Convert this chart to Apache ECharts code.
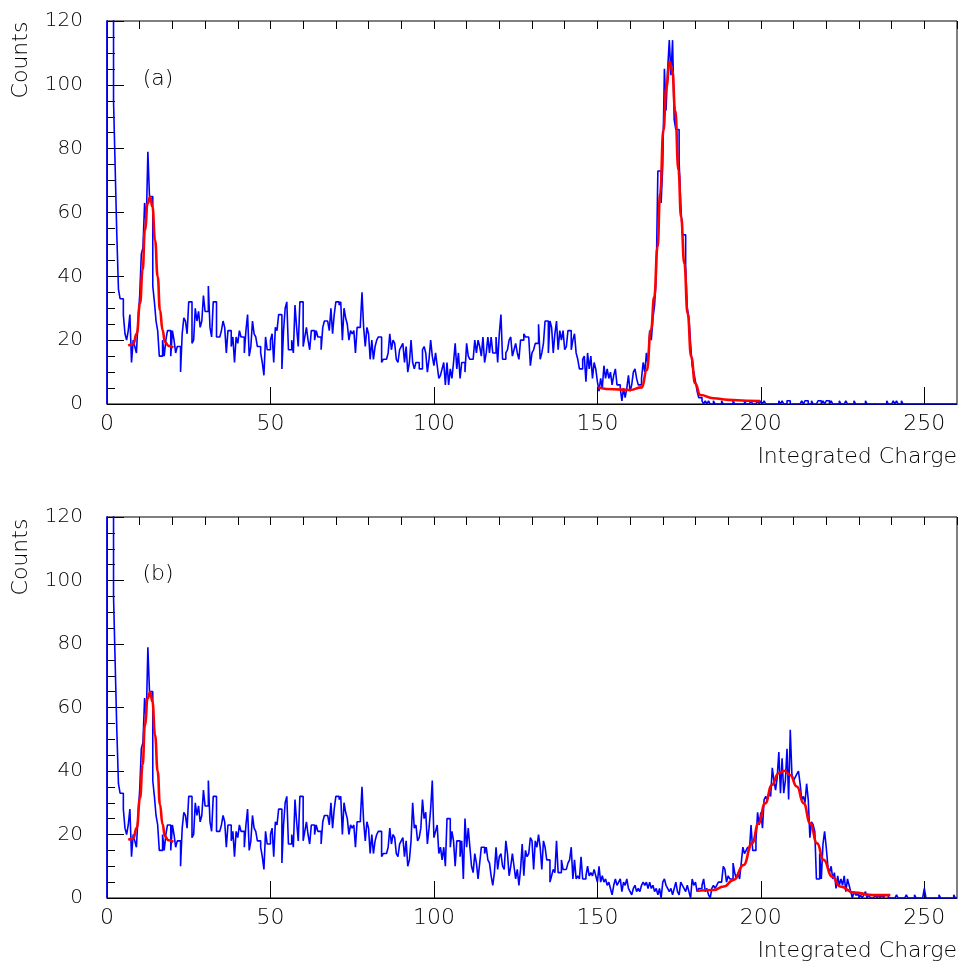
<!DOCTYPE html>
<html>
<head>
<meta charset="utf-8">
<script src="https://cdn.jsdelivr.net/npm/echarts@6/dist/echarts.min.js"></script>
<style>
html,body{margin:0;padding:0;background:#fff;}
#chart{width:961px;height:970px;}
</style>
</head>
<body>
<div id="chart"></div>
<script>
// ---------- data (bin width 0.5, bins start at 0) ----------
const binWidth = 0.5;
const xTicks = [0, 50, 100, 150, 200, 250];

// bins 0-56 (shared by both spectra)
const sharedLow = [150,150,150,150,95,74,53,36,33,33,28,22,20,23,28,13,20,18,16,
  26,34,47,49,63,56,79,65,65,37,
  32,26,23,15,15,20,15,20,23,23,15,23,20,16,18,18,10,22,27,26,22,32,32,19,20,30,26,29];
// bins 57-117
const sharedMid = [24,26,34,29,29,37,24,21,32,32,
  21,21,21,23,26,24,16,23,23,18,
  21,13,21,19,23,21,21,16,23,28,
  15,18,26,22,21,18,18,16,13,9,
  21,17,17,20,22,13,24,23,28,28,
  11,23,30,32,17,17,20,16,31,24,
  18];
// bins 118-184
const sharedHigh = [32,32,18,21,24,20,17,23,23,20,
  23,21,21,17,24,26,26,26,23,30,
  22,28,32,32,31,32,20,30,27,25,
  20,23,22,23,16,24,24,25,35,24,
  18,24,22,14,20,14,18,20,21,21,
  13,14,14,14,16,22,17,20,19,14,
  13,17,18,19,13,18,10];

// spectrum (a): bins 185-244
const aPlateau = [13,20,13,11,13,13,11,11,17,18,
  16,10,14,20,15,12,16,12,8,9,
  11,13,6,13,6,11,8,13,19,11,
  16,8,13,13,10,19,15,14,14,14,
  20,16,20,18,15,21,13,16,21,16,
  21,16,16,21,13,22,28,14,14,16];
// spectrum (a): bins 245-295
const aShoulder = [17,20,21,15,17,19,16,14,20,20,
  22,21,21,21,12,16,17,19,19,25,
  14,16,19,26,26,16,26,24,16,22,
  26,17,23,20,23,17,18,23,23,17,
  20,22,16,14,11,11,14,15,7,16,
  11];
// spectrum (a): bins 296-363
const aPeak = [15,8,13,11,7,4,8,5,12,8,
  11,8,10,6,9,11,6,6,5,1,
  5,2,5,9,4,6,10,11,8,6,
  6,8,13,10,16,12,23,20,27,31,
  40,73,73,63,75,105,92,105,114,103,
  114,89,86,86,76,63,53,53,43,30,
  27,19,12,10,7,4,2,2];
// spectrum (a): bins 364-519
const aTail = [1,0,1,0,1,0,0,1,0,0, 0,0,1,0,0,0,0,0,0,1, 0,0,0,0,0,0,1,0,0,0, 1,0,0,0,1,0,
  1,0,1,0,0,0,0,0,0,0,
  0,1,0,1,0,0,1,1,0,0,
  0,0,0,0,0,1,0,1,1,0,
  0,1,0,0,0,1,1,0,1,0,
  1,1,0,1,0,0,0,0,1,0,
  0,0,1,0,0,0,0,1,0,0,
  0,0,0,0,1,0,0,0,0,0,
  0,0,0,0,0,0,0,1,0,0,
  0,1,0,1,0,0,1,0,0,0,
  0,0,0,0,0,0,0,0,0,0,
  0,0,0,0,0,0,0,0,0,0, 0,0,0,0,0,0,0,0,0,0];

// spectrum (b): bins 185-289
const bPlateau = [12,18,30,22,23,18,19,22,31,25,
  27,17,22,28,37,19,21,23,14,16,
  12,16,10,25,25,16,21,18,10,18,
  18,13,18,6,25,16,22,16,10,8,
  14,11,6,11,16,16,14,16,12,11,
  7,4,8,16,9,13,14,10,9,18,
  14,7,10,14,10,6,9,4,9,17,
  7,15,13,14,19,18,9,18,16,20,
  16,9,18,16,12,12,5,7,9,8,
  18,8,8,12,9,9,9,11,12,16,
  6,12,6,7,6];
// spectrum (b): bins 290-375
const bValley = [13,6,6,7,10,7,8,7,9,7,
  5,10,5,7,5,6,4,5,3,1,
  4,6,4,5,6,2,5,4,6,3,
  2,1,3,4,2,3,2,4,5,4,
  5,3,5,3,4,2,3,1,3,0,
  5,6,4,3,2,3,1,3,5,2,
  1,5,4,3,2,4,2,0,6,4,
  5,2,3,3,4,6,2,3,1,0,
  3,4,3,4,5,5];
// spectrum (b): bins 376-519
const bPeak = [5,10,9,5,7,6,6,11,8,6,
  8,6,11,16,14,15,16,15,23,15,
  15,18,27,23,27,22,31,32,31,33,
  32,41,37,34,38,46,33,44,33,37,
  47,31,53,39,37,38,39,40,36,31,
  32,30,36,31,19,24,23,21,6,6,
  14,6,17,21,16,10,8,10,6,8,
  3,7,4,6,4,7,2,6,4,2,
  0,2,1,1,0,1,0,1,2,0,
  1,0,0,0,1,0,1,0,1,0,
  1,1,0,0,0,0,0,1,0,0,
  0,0,0,1,0,0,0,0,1,0,
  0,0,0,0,3,0,0,0,0,0,
  0,0,0,1,0,0,0,0,0,0,
  0,0,1,0];

// fitted curves
const fitLowX = [6.5,8.0,9.1,10.1,10.9,11.6,12.4,13.2,13.9,14.7,15.5,16.2,17.0,17.7,18.8,20.3];
const fitLowY = [18.3,18.7,22.1,31.5,42,54.5,62.8,64.9,61.8,51.3,39.9,29.4,23.2,19.5,18.2,17.7];
const fitA2X = [150.3,155,160,163.6,165.1,166.4,167.4,168.4,169.2,170.2,171.1,172.1,172.9,173.8,174.8,175.6,176.6,177.6,178.7,179.9,181.5,185.5,190,195.7,199.8];
const fitA2Y = [5.2,4.6,4.4,5.2,10.6,23.2,33.6,49.2,66,85.8,99.4,107.2,104.6,92,73.3,58.6,44,28.4,14.8,6.5,2.8,1.8,1.3,1.0,0.9];
const fitB2X = [180.4,185.5,188.6,191.7,194.7,197.3,199.3,201.3,203.4,205.4,207.2,209.0,211.0,213.1,215.1,217.2,219.2,221.8,224.3,228.4,234.5,239.6];
const fitB2Y = [2.3,2.5,3.6,5.7,10.4,17.2,23.5,29.8,35.6,39.3,40.1,38.7,35.1,29.8,23.5,17.2,12,6.7,3.6,1.7,0.9,0.9];

// ---------- build ----------
const countsA = [].concat(sharedLow, sharedMid, sharedHigh, aPlateau, aShoulder, aPeak, aTail);
const countsB = [].concat(sharedLow, sharedMid, sharedHigh, bPlateau, bValley, bPeak);

function histData(counts) {
  const pts = [[0, 0]];
  counts.forEach((c, i) => pts.push([i * binWidth, c]));
  pts.push([counts.length * binWidth, counts[counts.length - 1]]);
  return pts;
}
function zip(xs, ys) { return xs.map((x, i) => [x, ys[i]]); }

const FONT = "'DejaVu Sans', 'Liberation Sans', sans-serif";
const grids = [
  {left: 107, top: 21, width: 850, height: 383},
  {left: 107, top: 517, width: 850, height: 381}
];

const xAxes = [], yAxes = [];
grids.forEach((g, gi) => {
  xAxes.push({
    gridIndex: gi, type: 'value', min: 0, max: 260, interval: 50,
    axisLine: {show: true, onZero: false, lineStyle: {color: '#000', width: 1}},
    axisTick: {show: true, inside: true, length: 17, lineStyle: {color: '#000', width: 1}},
    axisLabel: {show: true, fontSize: 22, fontFamily: FONT, fontWeight: 200, color: '#000', margin: 9,
      showMaxLabel: false,
      formatter: v => (xTicks.indexOf(v) >= 0 ? String(v) : '')},
    splitLine: {show: false}
  });
  xAxes.push({
    gridIndex: gi, type: 'value', min: 0, max: 260, interval: 10,
    axisLine: {show: false, onZero: false},
    axisTick: {show: true, inside: true, length: 8, lineStyle: {color: '#000', width: 1}},
    axisLabel: {show: false},
    splitLine: {show: false}
  });
  yAxes.push({
    gridIndex: gi, type: 'value', min: 0, max: 120, interval: 20,
    axisLine: {show: true, onZero: false, lineStyle: {color: '#000', width: 1}},
    axisTick: {show: true, inside: true, length: 17, lineStyle: {color: '#000', width: 1}},
    minorTick: {show: true, splitNumber: 4, length: 8, lineStyle: {color: '#000', width: 1}},
    axisLabel: {show: true, fontSize: 20, fontFamily: FONT, fontWeight: 200, color: '#000', margin: 24},
    splitLine: {show: false},
    minorSplitLine: {show: false}
  });
});

const histStyle = {color: '#0000ff', width: 1.6};
const fitStyle = {color: '#ff0000', width: 2.6};

const series = [
  {type: 'line', xAxisIndex: 0, yAxisIndex: 0, data: histData(countsA), step: 'end',
   showSymbol: false, lineStyle: histStyle, itemStyle: {color: '#0000ff'}, clip: true, z: 2},
  {type: 'line', xAxisIndex: 2, yAxisIndex: 1, data: histData(countsB), step: 'end',
   showSymbol: false, lineStyle: histStyle, itemStyle: {color: '#0000ff'}, clip: true, z: 2},
  {type: 'line', xAxisIndex: 0, yAxisIndex: 0, data: zip(fitLowX, fitLowY), smooth: true, smoothMonotone: 'x',
   showSymbol: false, lineStyle: fitStyle, itemStyle: {color: '#ff0000'}, z: 3},
  {type: 'line', xAxisIndex: 0, yAxisIndex: 0, data: zip(fitA2X, fitA2Y), smooth: true, smoothMonotone: 'x',
   showSymbol: false, lineStyle: fitStyle, itemStyle: {color: '#ff0000'}, z: 3},
  {type: 'line', xAxisIndex: 2, yAxisIndex: 1, data: zip(fitLowX, fitLowY), smooth: true, smoothMonotone: 'x',
   showSymbol: false, lineStyle: fitStyle, itemStyle: {color: '#ff0000'}, z: 3},
  {type: 'line', xAxisIndex: 2, yAxisIndex: 1, data: zip(fitB2X, fitB2Y), smooth: true, smoothMonotone: 'x',
   showSymbol: false, lineStyle: fitStyle, itemStyle: {color: '#ff0000'}, z: 3}
];

function txt(text, x, y, size, align, rot) {
  return {type: 'text', x: x, y: y, rotation: rot || 0, z: 10,
    style: {text: text, fill: '#000', font: '200 ' + size + 'px ' + FONT,
      textAlign: align, textVerticalAlign: 'middle'}};
}

const chart = echarts.init(document.getElementById('chart'), null, {renderer: 'canvas'});
chart.setOption({
  animation: false,
  backgroundColor: '#fff',
  grid: grids.map(g => Object.assign({show: true, borderColor: '#000', borderWidth: 1, backgroundColor: 'transparent'}, g)),
  xAxis: xAxes,
  yAxis: yAxes,
  series: series,
  graphic: [
    txt('Counts', 21, 60, 22, 'center', Math.PI / 2),
    txt('Counts', 21, 557, 22, 'center', Math.PI / 2),
    txt('Integrated Charge', 957, 457, 22, 'right'),
    txt('Integrated Charge', 957, 951, 22, 'right'),
    txt('(a)', 158, 79, 22, 'center'),
    txt('(b)', 158, 574, 22, 'center')
  ]
});
</script>
</body>
</html>
